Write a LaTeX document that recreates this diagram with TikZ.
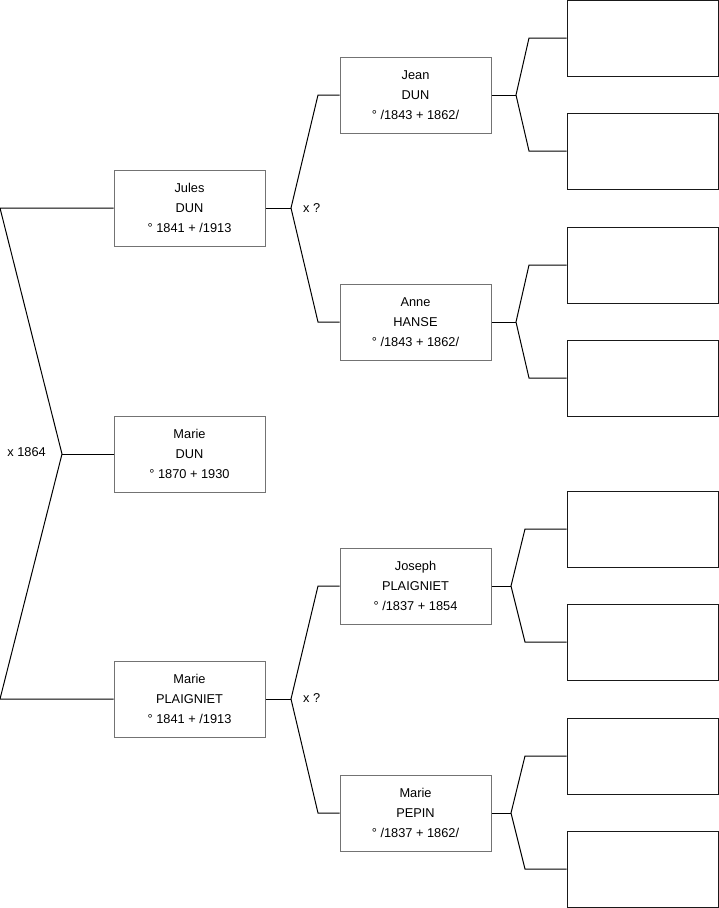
\documentclass[tikz,border=0pt]{standalone}
\usepackage{fontspec}
\setmainfont{Liberation Sans}
\usetikzlibrary{positioning}

\begin{document}
\begin{tikzpicture}[
x=1pt, y=-1pt,
person/.style={
draw=black!55,
line width=1pt,
minimum width=151pt,
minimum height=76pt,
inner sep=0pt,
align=center,
font=\fontsize{12.8}{20}\selectfont
},
emptybox/.style={
draw=black!90,
line width=1pt,
minimum width=151pt,
minimum height=76pt,
inner sep=0pt
},
link/.style={draw=black, line width=1pt},
lbl/.style={inner sep=0pt, font=\fontsize{12.8}{15}\selectfont}
]

\useasboundingbox (0,0) rectangle (719,908);

% generation 1
\node[person] (marieD) at (189.5,454) {Marie\\DUN\\° 1870 + 1930};

% generation 2
\node[person] (jules) at (189.5,208) {Jules\\DUN\\° 1841 + /1913};
\node[person] (marieP) at (189.5,699) {Marie\\PLAIGNIET\\° 1841 + /1913};

% generation 3
\node[person] (jean) at (415.5,95) {Jean\\DUN\\° /1843 + 1862/};
\node[person] (anne) at (415.5,322) {Anne\\HANSE\\° /1843 + 1862/};
\node[person] (joseph) at (415.5,586) {Joseph\\PLAIGNIET\\° /1837 + 1854};
\node[person] (pepin) at (415.5,813) {Marie\\PEPIN\\° /1837 + 1862/};

% generation 4
\foreach \i/\yy in {1/38,2/151,3/265,4/378,5/529,6/642,7/756,8/869}
  \node[emptybox] (e\i) at (642.5,\yy) {};

% couple marks
\coordinate (c0) at (0,208);
\coordinate (c1) at (62,454);
\coordinate (c2) at (0,699);
\node[lbl, anchor=east] (x0) at (46,452) {x 1864};

\coordinate (j0) at (291,208);
\coordinate (j1) at (318,95);
\coordinate (j2) at (318,322);
\node[lbl, anchor=west] (x1) at (303,208) {x ?};

\coordinate (m0) at (291,699);
\coordinate (m1) at (318,586);
\coordinate (m2) at (318,813);
\node[lbl, anchor=west] (x2) at (303,698) {x ?};

\coordinate (a0) at (516,95);
\coordinate (a1) at (529,38);
\coordinate (a2) at (529,151);
\coordinate (b0) at (516,322);
\coordinate (b1) at (529,265);
\coordinate (b2) at (529,378);
\coordinate (d0) at (511,586);
\coordinate (d1) at (525,529);
\coordinate (d2) at (525,642);
\coordinate (f0) at (511,813);
\coordinate (f1) at (525,756);
\coordinate (f2) at (525,869);

% connectors
\draw[link] (jules.west) -- (c0) -- (c1) -- (c2) -- (marieP.west);
\draw[link] (c1) -- (marieD.west);

\draw[link] (jules.east) -- (j0);
\draw[link] (jean.west) -- (j1) -- (j0) -- (j2) -- (anne.west);
\draw[link] (marieP.east) -- (m0);
\draw[link] (joseph.west) -- (m1) -- (m0) -- (m2) -- (pepin.west);

\draw[link] (jean.east) -- (a0);
\draw[link] (e1.west) -- (a1) -- (a0) -- (a2) -- (e2.west);
\draw[link] (anne.east) -- (b0);
\draw[link] (e3.west) -- (b1) -- (b0) -- (b2) -- (e4.west);
\draw[link] (joseph.east) -- (d0);
\draw[link] (e5.west) -- (d1) -- (d0) -- (d2) -- (e6.west);
\draw[link] (pepin.east) -- (f0);
\draw[link] (e7.west) -- (f1) -- (f0) -- (f2) -- (e8.west);

\end{tikzpicture}
\end{document}
